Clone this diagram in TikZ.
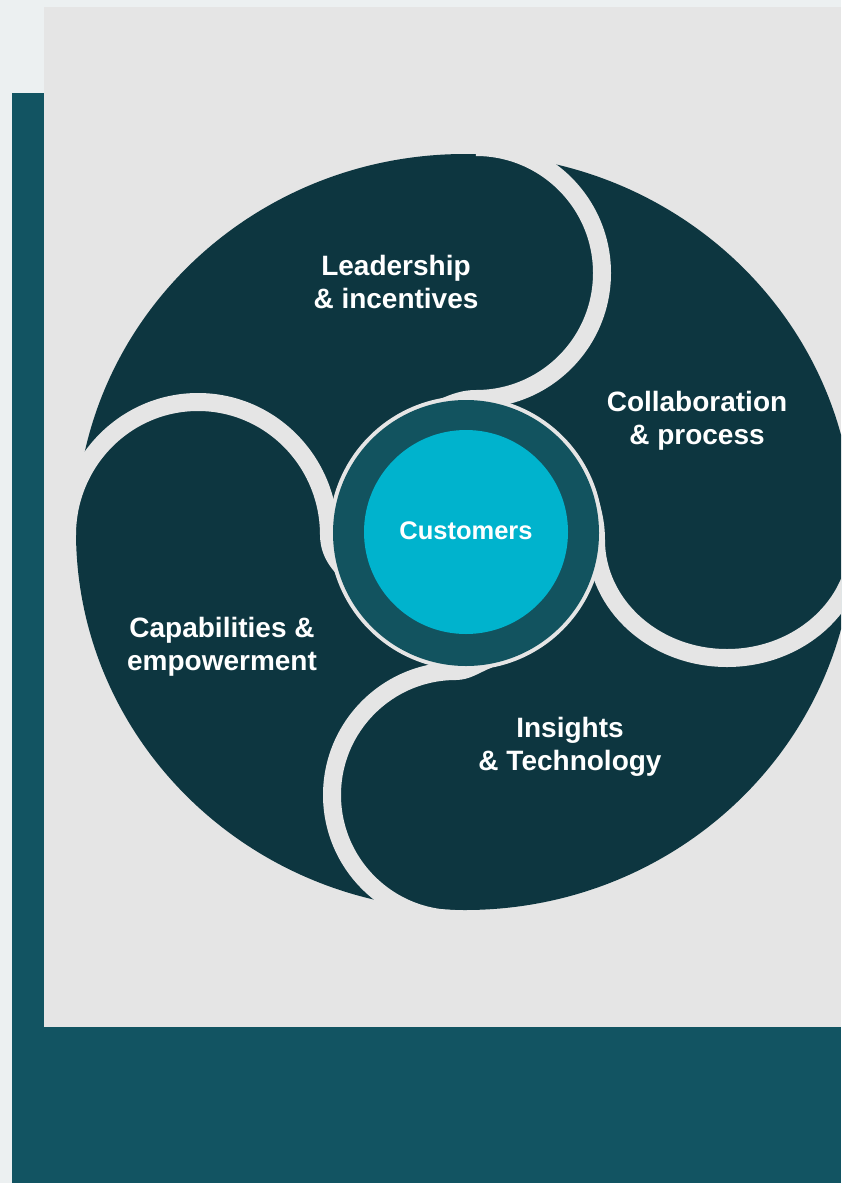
\documentclass[tikz,border=0pt]{standalone}
\usepackage{fontspec}
\setmainfont{Liberation Sans}
\definecolor{pageblue}{HTML}{ECF0F1}
\definecolor{framegray}{HTML}{E5E5E5}
\definecolor{deepteal}{HTML}{125462}
\definecolor{petaldark}{HTML}{0D3640}
\definecolor{ringteal}{HTML}{12535F}
\definecolor{coreblue}{HTML}{00B3CD}
\tikzset{
  gapline/.style={draw=framegray, line width=18pt, line cap=butt},
  gapfill/.style={fill=framegray},
  petaltext/.style={text=white, align=center, font=\fontsize{28}{33}\selectfont\bfseries},
  coretext/.style={text=white, font=\fontsize{25.5}{30}\selectfont\bfseries}
}
\begin{document}
\begin{tikzpicture}[x=1pt,y=-1pt]
\useasboundingbox (0,0) rectangle (841,1183);
\fill[pageblue] (0,0) rectangle (841,1183);
\fill[deepteal] (12,93) rectangle (841,1183);
\fill[framegray] (44,7) rectangle (841,1027);
\begin{scope}
\clip (0,0) rectangle (841,1183);
\fill[petaldark] (465,532) ellipse [x radius=389, y radius=378];
% dividers
\draw[gapline] (476,273) ++(90:126) arc[start angle=90, end angle=-90, radius=126];
\draw[gapline] (727,540) ++(-131,0) arc[start angle=180, end angle=0, x radius=131, y radius=118];
\draw[gapline] (456,795) ++(-90:124) arc[start angle=-90, end angle=-270, radius=124];
\draw[gapline] (198,535) ++(131,0) arc[start angle=0, end angle=-180, x radius=131, y radius=133];
% tapers where the gaps meet the ring
\path[gapfill] (476,390) .. controls (462,390) and (452,394) .. (440,399) -- (440,430) -- (476,430) -- cycle;
\path[gapfill] (605,540) .. controls (605,527) and (603,515) .. (600,505) -- (570,505) -- (570,540) -- cycle;
\path[gapfill] (456,680) .. controls (470,680) and (480,672) .. (492,667.5) -- (492,640) -- (456,640) -- cycle;
\path[gapfill] (320,535) .. controls (320,550) and (326,562) .. (334.7,572) -- (360,572) -- (360,535) -- cycle;
\end{scope}
% centre
\fill[framegray] (466,533) circle[radius=137];
\fill[ringteal] (466,533) circle[radius=133];
\fill[coreblue] (466,532) circle[radius=102];
\node[coretext] (core) at (466,531) {Customers};
\node[petaltext] (lead) at (396,282) {Leadership\\\& incentives};
\node[petaltext] (collab) at (697,421) {Collaboration\\\& process};
\node[petaltext] (capab) at (222,647) {Capabilities \&\\empowerment};
\node[petaltext] (insight) at (570,747) {Insights\\\& Technology};
\end{tikzpicture}
\end{document}
